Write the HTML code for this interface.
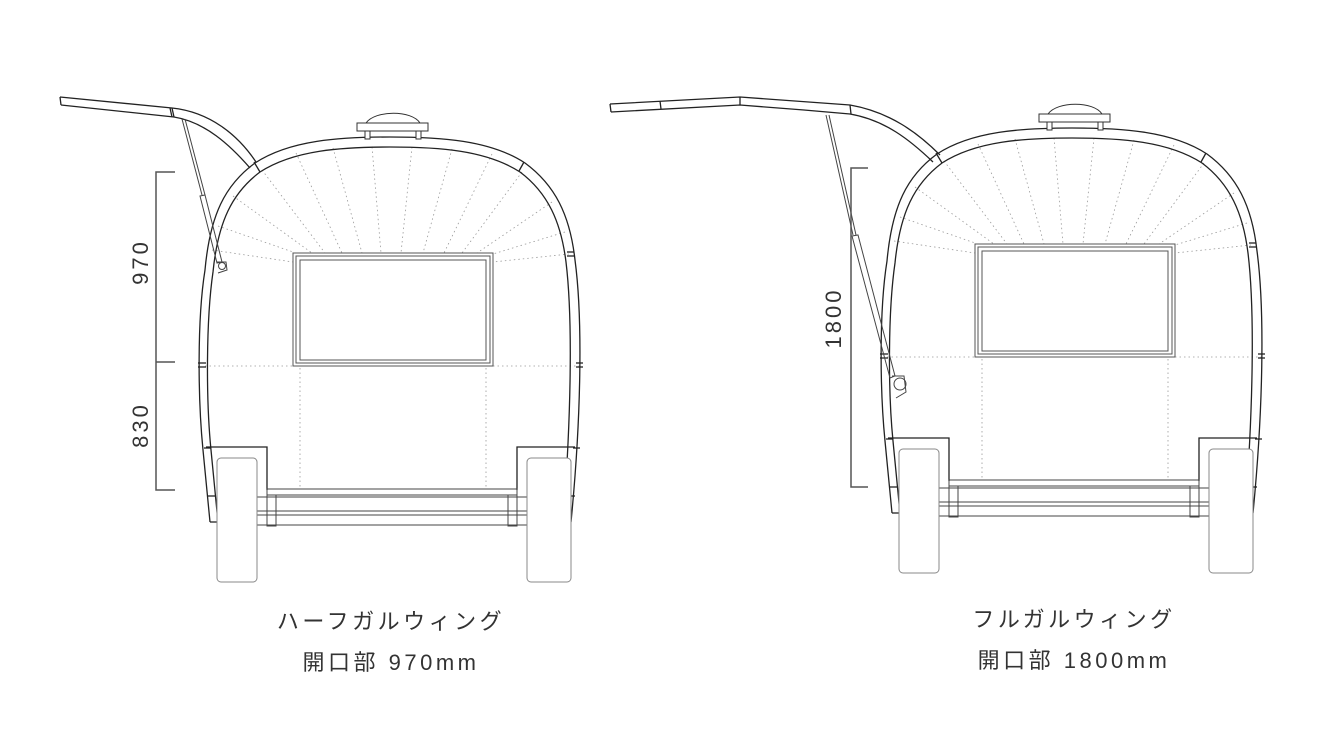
<!DOCTYPE html>
<html><head><meta charset="utf-8"><style>
html,body{margin:0;padding:0;background:#fff;width:1330px;height:748px;overflow:hidden}
svg{display:block}
text{font-family:"Liberation Sans","Noto Sans CJK JP",sans-serif;fill:#333}
</style></head><body>
<svg width="1330" height="748" viewBox="0 0 1330 748" xmlns="http://www.w3.org/2000/svg">
<defs>
<g id="body">
  <g stroke="#999" stroke-width="0.8" stroke-dasharray="1.5,3" fill="none">
    <line x1="212" y1="250" x2="293" y2="262"/>
    <line x1="218" y1="226" x2="293" y2="252"/>
    <line x1="233" y1="196" x2="312" y2="253"/>
    <line x1="262" y1="170" x2="325" y2="253"/>
    <line x1="296" y1="153" x2="342" y2="253"/>
    <line x1="333" y1="148" x2="362" y2="253"/>
    <line x1="372" y1="147" x2="381" y2="253"/>
    <line x1="412" y1="147" x2="401" y2="253"/>
    <line x1="452" y1="149" x2="423" y2="253"/>
    <line x1="492" y1="154" x2="444" y2="253"/>
    <line x1="522" y1="172" x2="462" y2="253"/>
    <line x1="552" y1="202" x2="477" y2="253"/>
    <line x1="565" y1="232" x2="493" y2="254"/>
    <line x1="569" y1="254" x2="493" y2="262"/>
    <line x1="205" y1="366" x2="293" y2="366"/>
    <line x1="493" y1="366" x2="580" y2="366"/>
    <line x1="300" y1="368" x2="300" y2="489"/>
    <line x1="486" y1="368" x2="486" y2="489"/>
  </g>
  <g stroke="#222" stroke-width="1.3" fill="none">
    <path d="M210,522 L203,450 C198,400 197,320 205,270 C210,215 225,185 255,163 C290,140 340,137 390,137 C440,137 490,140 525,163 C555,185 570,215 575,260 C583,320 581,420 571,522"/>
    <path d="M218,522 L211,450 C206,400 206,320 213,272 C218,222 232,193 260,172 C294,150 342,147 390,147 C438,147 486,150 520,172 C548,193 561,222 566,262 C573,320 571,420 563,522"/>
    <line x1="210" y1="522" x2="218" y2="522"/>
    <line x1="563" y1="522" x2="571" y2="522"/>
    <line x1="254" y1="162" x2="260" y2="172"/>
    <line x1="524" y1="162" x2="519" y2="171"/>
    <line x1="198" y1="363" x2="206" y2="363"/>
    <line x1="198" y1="367" x2="206" y2="367"/>
    <line x1="576" y1="363" x2="583" y2="363"/>
    <line x1="576" y1="367" x2="583" y2="367"/>
    <line x1="567" y1="252" x2="574" y2="252"/>
    <line x1="567" y1="256" x2="574" y2="256"/>
    <line x1="204" y1="448" x2="211" y2="448"/>
    <line x1="573" y1="448" x2="580" y2="448"/>
    <line x1="207" y1="496" x2="216" y2="496"/>
    <line x1="566" y1="496" x2="575" y2="496"/>
  </g>
  <g stroke="#333" stroke-width="1" fill="#fff">
    <path d="M366,123 C375,110 412,110 420,123" />
    <rect x="357" y="123" width="71" height="8"/>
    <rect x="365" y="131" width="5" height="8"/>
    <rect x="416" y="131" width="5" height="8"/>
  </g>
  <g stroke="#555" stroke-width="1" fill="none">
    <rect x="293" y="253" width="200" height="113"/>
    <rect x="296" y="256" width="194" height="107"/>
    <rect x="300" y="260" width="186" height="100"/>
  </g>
  <g stroke="#222" stroke-width="1.3" fill="none">
    <polyline points="206,447 267,447 267,490"/>
    <polyline points="575,447 517,447 517,490"/>
  </g>
  <g stroke="#444" stroke-width="1" fill="none">
    <rect x="267" y="489" width="250" height="6"/>
    <line x1="256" y1="497" x2="527" y2="497"/>
    <line x1="256" y1="511" x2="527" y2="511"/>
    <line x1="256" y1="515" x2="527" y2="515"/>
    <line x1="256" y1="525" x2="527" y2="525"/>
    <rect x="267" y="495" width="9" height="31"/>
    <rect x="508" y="495" width="9" height="31"/>
  </g>
  <g stroke="#888" stroke-width="1" fill="#fff">
    <rect x="217" y="458" width="40" height="124" rx="4"/>
    <rect x="527" y="458" width="44" height="124" rx="4"/>
  </g>
</g>
</defs>

<use href="#body"/>
<use href="#body" transform="translate(682,-9)"/>

<g stroke="#222" stroke-width="1.3" fill="none">
  <path d="M60,97 L172,108 C210,112 238,135 256,162"/>
  <path d="M61,105 L174,117 C205,122 230,145 250,168"/>
  <line x1="60" y1="97" x2="61" y2="105"/>
  <line x1="172" y1="108" x2="174" y2="117"/>
  <line x1="170" y1="108" x2="172" y2="117"/>
</g>
<g stroke="#444" stroke-width="1" fill="none">
  <line x1="182" y1="119" x2="202" y2="195"/>
  <line x1="185" y1="119" x2="205" y2="195"/>
  <polygon points="200,196 205,195 222,262 217,263"/>
  <circle cx="222" cy="266" r="3.5"/>
  <polyline points="217,262 226,262 227,270 218,273"/>
</g>
<g stroke="#222" stroke-width="1.3" fill="none">
  <path d="M610,104 L740,97 L850,105 C890,112 918,133 940,155"/>
  <path d="M611,112 L740,105 L804,110 L850,114 C885,120 910,140 933,162"/>
  <line x1="610" y1="104" x2="611" y2="112"/>
  <line x1="660" y1="101" x2="661" y2="109"/>
  <line x1="740" y1="97" x2="740" y2="105"/>
  <line x1="850" y1="105" x2="851" y2="114"/>
</g>
<g stroke="#444" stroke-width="1" fill="none">
  <line x1="826" y1="115" x2="853" y2="235"/>
  <line x1="829" y1="115" x2="856" y2="235"/>
  <polygon points="852,236 858,235 895,376 890,378"/>
  <circle cx="900" cy="384" r="6"/>
  <polyline points="892,376 904,376 906,392 896,398"/>
</g>

<g stroke="#555" stroke-width="1.5" fill="none">
  <polyline points="175,172 156,172 156,490 175,490"/>
  <line x1="156" y1="362" x2="175" y2="362"/>
  <polyline points="868,168 851,168 851,487 868,487"/>
</g>
<g font-size="22" letter-spacing="3">
  <text transform="translate(148,262) rotate(-90)" text-anchor="middle" fill="#555">970</text>
  <text transform="translate(148,425) rotate(-90)" text-anchor="middle" fill="#555">830</text>
  <text transform="translate(841,318) rotate(-90)" text-anchor="middle" fill="#555">1800</text>
</g>

<g font-size="22" text-anchor="middle" letter-spacing="3.5">
  <text x="391" y="629">ハーフガルウィング</text>
  <text x="391" y="670">開口部 970mm</text>
  <text x="1074" y="627">フルガルウィング</text>
  <text x="1074" y="668">開口部 1800mm</text>
</g>
</svg>
</body></html>
